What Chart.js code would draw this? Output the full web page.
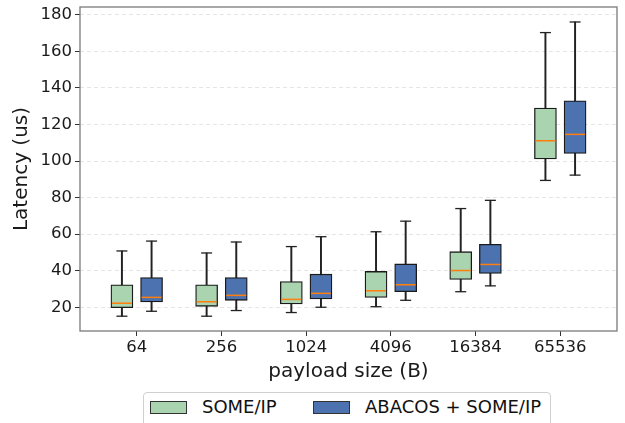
<!DOCTYPE html>
<html>
<head>
<meta charset="utf-8">
<script src="https://cdn.jsdelivr.net/npm/chart.js@4"></script>
<style>
  html, body { margin: 0; padding: 0; background: #fff; overflow: hidden; }
  #wrap { position: relative; width: 625px; height: 423px; }
  #c { position: absolute; left: 0; top: 0; }
  #legend {
    position: absolute; left: 143px; top: 392px; width: 408px; height: 40px;
    border: 1px solid #d0d0d0; border-radius: 4px; background: #fff;
    box-sizing: border-box; font-family: 'DejaVu Sans', sans-serif; font-size: 18px; color: #111;
  }
  .sw { position: absolute; top: 8px; width: 37px; height: 13px; border: 1px solid #333; box-sizing: border-box; }
  .lt { position: absolute; top: 3px; line-height: 22px; white-space: nowrap; }
</style>
</head>
<body>
<div id="wrap">
  <canvas id="c" width="625" height="423"></canvas>
  <div id="legend"></div>
</div>
<script>
// ---- data ----
const categories = ['64', '256', '1024', '4096', '16384', '65536'];
const yTicks = [20, 40, 60, 80, 100, 120, 140, 160, 180];

const someipLow  = [15.1, 15.1, 17.1, 20.3, 28.5, 89.4];
const someipQ1   = [19.8, 20.5, 21.8, 25.4, 35.2, 101.1];
const someipMed  = [22.2, 23.0, 24.3, 29.0, 40.1, 111.1];
const someipQ3   = [32.3, 32.3, 34.1, 39.6, 50.4, 129.0];
const someipHigh = [50.8, 49.7, 53.2, 61.3, 74.0, 170.3];

const abacosLow  = [17.8, 18.2, 20.0, 23.8, 31.7, 92.3];
const abacosQ1   = [22.9, 23.8, 24.5, 28.5, 38.5, 104.2];
const abacosMed  = [25.4, 26.5, 27.6, 32.3, 43.4, 114.6];
const abacosQ3   = [36.3, 36.3, 38.1, 43.7, 54.4, 133.0];
const abacosHigh = [56.2, 55.7, 58.6, 67.1, 78.5, 176.1];

const seriesNames = ['SOME/IP', 'ABACOS + SOME/IP'];
const seriesColors = ['#aad3af', '#4c72b0'];

// ---- build datasets ----
const OFFSET = 0.175;
const BOX_W = 22;
function xs(sign) { return categories.map((c, i) => i + 1 + sign * OFFSET); }

function boxSets(name, color, sign, low, q1, med, q3, high) {
  const x = xs(sign);
  return [
    { type: 'bar', label: name + ' whisker', order: 3,
      data: x.map((xv, i) => ({ x: xv, y: [low[i], high[i]] })),
      backgroundColor: '#222', borderWidth: 0, barThickness: 1.3, grouped: false },
    { type: 'bar', label: name, order: 2,
      data: x.map((xv, i) => ({ x: xv, y: [q1[i], q3[i]] })),
      backgroundColor: color, borderColor: '#1a1a1a', borderWidth: 1.3,
      borderSkipped: false, barThickness: BOX_W, grouped: false },
    { type: 'line', label: name + ' caps', order: 1, showLine: false,
      data: x.flatMap((xv, i) => [{ x: xv, y: low[i] }, { x: xv, y: high[i] }]),
      pointStyle: 'line', pointRadius: 5.5, pointHoverRadius: 5.5,
      borderColor: '#222', borderWidth: 1.3 },
    { type: 'line', label: name + ' median', order: 0, showLine: false,
      data: x.map((xv, i) => ({ x: xv, y: med[i] })),
      pointStyle: 'line', pointRadius: 10, pointHoverRadius: 10,
      borderColor: '#ff7f0e', borderWidth: 1.5 }
  ];
}

const datasets = [
  ...boxSets(seriesNames[0], seriesColors[0], -1, someipLow, someipQ1, someipMed, someipQ3, someipHigh),
  ...boxSets(seriesNames[1], seriesColors[1], 1, abacosLow, abacosQ1, abacosMed, abacosQ3, abacosHigh)
];

Chart.defaults.font.family = "'DejaVu Sans', sans-serif";
Chart.defaults.color = '#1a1a1a';

const framePlugin = {
  id: 'frame',
  afterDatasetsDraw(chart) {
    const { ctx, chartArea: a } = chart;
    ctx.save();
    ctx.strokeStyle = '#7a7a7a';
    ctx.lineWidth = 1.3;
    ctx.strokeRect(a.left, a.top, a.right - a.left, a.bottom - a.top);
    ctx.restore();
  }
};

function noEdgePadding(s) { s.paddingTop = 0; s.paddingBottom = 0; s.paddingLeft = 0; s.paddingRight = 0; }

new Chart(document.getElementById('c'), {
  type: 'bar',
  data: { datasets },
  options: {
    responsive: false,
    animation: false,
    layout: { autoPadding: false, padding: { left: 5.5, top: 7, right: 8, bottom: 35.2 } },
    plugins: { legend: { display: false }, tooltip: { enabled: false } },
    scales: {
      x: {
        type: 'linear', min: 0.33, max: 6.67, offset: false,
        afterBuildTicks: (s) => { s.ticks = categories.map((c, i) => ({ value: i + 1 })); },
        afterFit: noEdgePadding,
        ticks: { callback: (v) => categories[Math.round(v) - 1], autoSkip: false, maxRotation: 0,
                 padding: 2, font: { size: 16.5 }, color: '#1a1a1a' },
        grid: { offset: false, drawOnChartArea: false, drawTicks: true, tickLength: 5, tickColor: '#333', tickWidth: 1 },
        border: { display: false },
        title: { display: true, text: 'payload size (B)', font: { size: 20 }, color: '#1a1a1a',
                 padding: { top: 0, bottom: 4 } }
      },
      y: {
        type: 'linear', min: 7, max: 184.3,
        afterBuildTicks: (s) => { s.ticks = yTicks.map(v => ({ value: v })); },
        afterFit: noEdgePadding,
        ticks: { padding: 3, font: { size: 16.5 }, color: '#1a1a1a' },
        grid: { color: '#e2e2e2', lineWidth: 0.9, tickLength: 5, tickColor: '#333', tickWidth: 1,
                tickBorderDash: [] },
        border: { display: false, dash: [4, 3] },
        title: { display: true, text: 'Latency (us)', font: { size: 20 }, color: '#1a1a1a',
                 padding: { top: 4, bottom: 4 } }
      }
    }
  },
  plugins: [framePlugin]
});

// ---- legend (HTML) ----
const legend = document.getElementById('legend');
const swX = [6, 169];
const txX = [58, 221];
seriesNames.forEach((n, i) => {
  const sw = document.createElement('div');
  sw.className = 'sw'; sw.style.left = swX[i] + 'px'; sw.style.background = seriesColors[i];
  legend.appendChild(sw);
  const t = document.createElement('div');
  t.className = 'lt'; t.style.left = txX[i] + 'px'; t.textContent = n;
  legend.appendChild(t);
});
</script>
</body>
</html>
